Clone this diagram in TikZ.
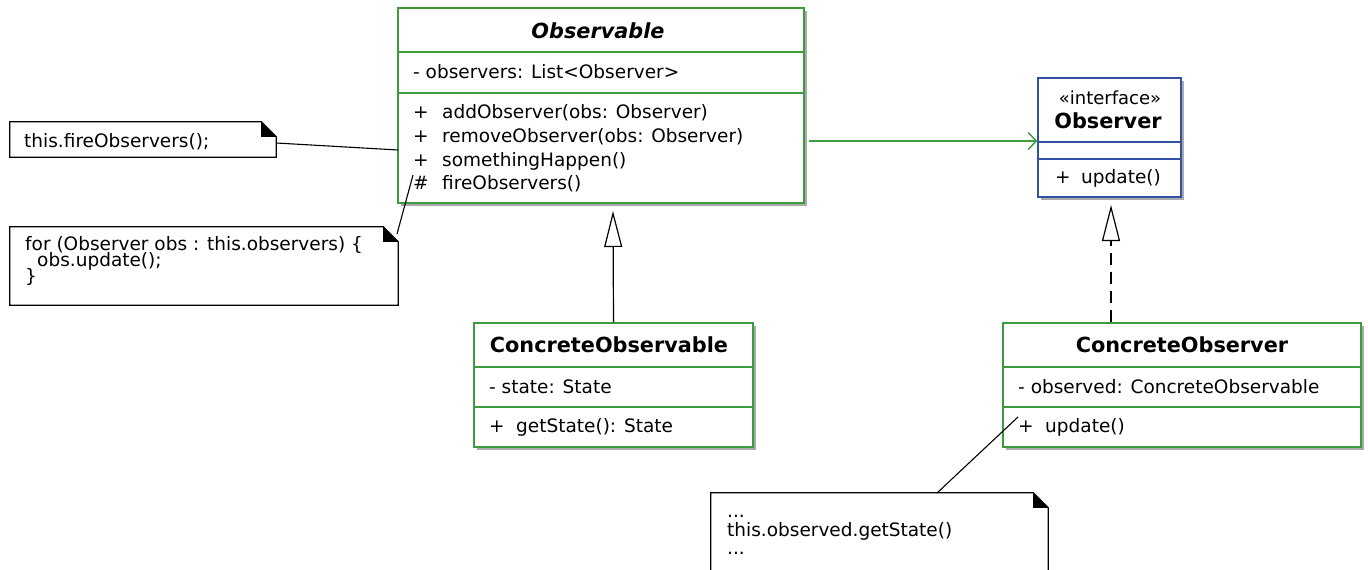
\documentclass[tikz,border=0pt]{standalone}
\usepackage{fontspec}
\setmainfont{DejaVu Sans}
\usetikzlibrary{arrows.meta,shadows}
\definecolor{umlgreen}{RGB}{60,155,60}
\definecolor{umlblue}{RGB}{50,80,165}
\definecolor{shadowgray}{RGB}{170,170,170}
\tikzset{
  classbox/.style={draw=umlgreen, line width=1.6pt, fill=white, inner sep=0pt,
    drop shadow={shadow xshift=3pt, shadow yshift=-3pt, fill=shadowgray, opacity=1}},
  ifacebox/.style={classbox, draw=umlblue},
  gsep/.style={draw=umlgreen, line width=1.3pt},
  bsep/.style={draw=umlblue, line width=1.3pt},
  txt/.style={anchor=base west, inner sep=0pt, font=\fontsize{18.5}{22}\selectfont},
  ttl/.style={inner sep=0pt, font=\fontsize{20.8}{24}\selectfont\bfseries},
  notebox/.style={inner sep=0pt, draw=none},
  link/.style={black, line width=1.1pt},
  gen/.style={black, line width=1.2pt, -{Triangle[open, length=36pt, width=18pt, line width=1.2pt]}},
  real/.style={gen, dash pattern=on 12pt off 7pt},
  assoc/.style={umlgreen, line width=1.4pt, -{Straight Barb[length=8pt, width=17pt, line width=1.4pt]}},
}
\newcommand\drawnote[1]{%
  \draw[line width=1.2pt] (#1.north west) -- ([xshift=-15pt]#1.north east)
    -- ([yshift=-15pt]#1.north east) -- (#1.south east) -- (#1.south west) -- cycle;
  \fill ([xshift=-15pt]#1.north east) -- ([yshift=-15pt]#1.north east)
    -- ([xshift=-15pt,yshift=-15pt]#1.north east) -- cycle;
}
\begin{document}
\begin{tikzpicture}[x=1pt, y=-1pt]
\useasboundingbox[fill=white] (0,0) rectangle (1368,570);

% ---------- Observable ----------
\node[classbox, minimum width=406pt, minimum height=195pt] (obs) at (601,105.5) {};
\draw[gsep] (obs.west |- 0,52) -- (obs.east |- 0,52);
\draw[gsep] (obs.west |- 0,93) -- (obs.east |- 0,93);
\node[ttl, font=\fontsize{20.8}{24}\selectfont\bfseries\itshape] (obsT) at (598,31) {Observable};
\node[txt] (obsA) at (413,78) {- observers: List<Observer>};
\node[txt] (obsM1s) at (413,118) {+};
\node[txt] (obsM1) at (442,118) {addObserver(obs: Observer)};
\node[txt] (obsM2s) at (413,142) {+};
\node[txt] (obsM2) at (442,142) {removeObserver(obs: Observer)};
\node[txt] (obsM3s) at (413,166) {+};
\node[txt] (obsM3) at (442,166) {somethingHappen()};
\node[txt] (obsM4s) at (413,189) {\#};
\node[txt] (obsM4) at (442,189) {fireObservers()};

% ---------- Observer (interface) ----------
\node[ifacebox, minimum width=143pt, minimum height=119pt] (ob) at (1109.5,137.5) {};
\draw[bsep] (ob.west |- 0,142) -- (ob.east |- 0,142);
\draw[bsep] (ob.west |- 0,159) -- (ob.east |- 0,159);
\node[inner sep=0pt, font=\fontsize{18}{20}\selectfont] (obS) at (1110,98) {«interface»};
\node[ttl] (obT) at (1108,121) {Observer};
\node[txt] (obM1s) at (1055,183) {+};
\node[txt] (obM1) at (1081,183) {update()};

% ---------- ConcreteObservable ----------
\node[classbox, minimum width=279pt, minimum height=124pt] (cobs) at (613.5,385) {};
\draw[gsep] (cobs.west |- 0,367) -- (cobs.east |- 0,367);
\draw[gsep] (cobs.west |- 0,407) -- (cobs.east |- 0,407);
\node[ttl] (cobsT) at (609,345) {ConcreteObservable};
\node[txt] (cobsA) at (489,393) {- state: State};
\node[txt] (cobsMs) at (489,432) {+};
\node[txt] (cobsM) at (516,432) {getState(): State};

% ---------- ConcreteObserver ----------
\node[classbox, minimum width=358pt, minimum height=124pt] (cob) at (1182,385) {};
\draw[gsep] (cob.west |- 0,367) -- (cob.east |- 0,367);
\draw[gsep] (cob.west |- 0,407) -- (cob.east |- 0,407);
\node[ttl] (cobT) at (1182,345) {ConcreteObserver};
\node[txt] (cobA) at (1018,393) {- observed: ConcreteObservable};
\node[txt] (cobMs) at (1018,432) {+};
\node[txt] (cobM) at (1045,432) {update()};

% ---------- Notes ----------
\node[notebox, minimum width=266pt, minimum height=35pt] (n1) at (143,139.5) {};
\drawnote{n1}
\node[txt] (n1t) at (24,147) {this.fireObservers();};

\node[notebox, minimum width=388pt, minimum height=78pt] (n2) at (204,266) {};
\drawnote{n2}
\node[txt] (n2a) at (25,250) {for (Observer obs : this.observers) \{};
\node[txt] (n2b) at (37,266) {obs.update();};
\node[txt] (n2c) at (25,282) {\}};

\node[notebox, minimum width=337pt, minimum height=120pt] (n3) at (879.5,553) {};
\drawnote{n3}
\node[txt] (n3a) at (727,517) {...};
\node[txt] (n3b) at (727,536) {this.observed.getState()};
\node[txt] (n3c) at (727,554) {...};

% ---------- Connectors ----------
\coordinate (n1end) at (398,150);
\draw[link] (n1.east |- 0,143) -- (n1end);
\coordinate (n2top) at (413,175);
\coordinate (n2end) at (397,234);
\draw[link] (n2end) -- (n2top);
\coordinate (n3top) at (1018,417);
\coordinate (n3end) at (937,493);
\draw[link] (n3end) -- (n3top);

\coordinate (assocStart) at (809,141);
\draw[assoc] (assocStart) -- (ob.west |- 0,141);

\coordinate (genApex) at (613,211);
\draw[gen] (cobs.north) -- (genApex);
\coordinate (realApex) at (1111,205);
\draw[real] (cob.north -| realApex) -- (realApex);
\end{tikzpicture}
\end{document}
